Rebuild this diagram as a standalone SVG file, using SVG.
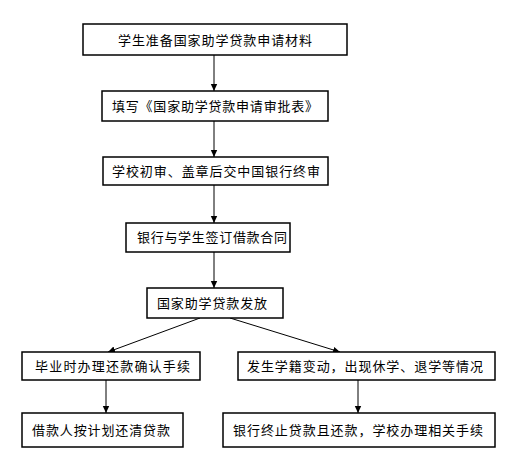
<svg xmlns="http://www.w3.org/2000/svg" width="517" height="476" viewBox="0 0 517 476">
<style>
.box{fill:#fff;stroke:#000;stroke-width:1.5}
.t{font-family:"Noto Sans CJK SC","Noto Sans CJK JP",sans-serif;font-size:13px;fill:#000}
.c{stroke:#000;stroke-width:1;fill:none;marker-end:url(#ah)}
</style>
<defs>
<marker id="ah" markerWidth="8" markerHeight="8" refX="7" refY="4" orient="auto" markerUnits="userSpaceOnUse">
<path d="M0,0.8 L7,4 L0,7.2 Z" fill="#000"/>
</marker>
</defs>
<rect width="517" height="476" fill="#fff"/>
<g id="connectors">
<line class="c" x1="214" y1="55" x2="214" y2="91"/>
<line class="c" x1="214" y1="121" x2="214" y2="157"/>
<line class="c" x1="214" y1="185" x2="214" y2="223"/>
<line class="c" x1="214" y1="252" x2="214" y2="288"/>
<line class="c" x1="200" y1="318" x2="108" y2="352"/>
<line class="c" x1="230" y1="318" x2="340" y2="352"/>
<line class="c" x1="106" y1="380" x2="106" y2="413"/>
<line class="c" x1="358" y1="380" x2="358" y2="413"/>
</g>
<g id="n1"><rect class="box" x="83" y="24" width="264" height="31"/><text class="t" x="118" y="44.5" textLength="194" lengthAdjust="spacing">学生准备国家助学贷款申请材料</text></g>
<g id="n2"><rect class="box" x="102" y="91" width="226" height="30"/><text class="t" x="112" y="111" textLength="206" lengthAdjust="spacing">填写《国家助学贷款申请审批表》</text></g>
<g id="n3"><rect class="box" x="103" y="157" width="225" height="28"/><text class="t" x="112" y="175.5" textLength="208" lengthAdjust="spacing">学校初审、盖章后交中国银行终审</text></g>
<g id="n4"><rect class="box" x="126" y="223" width="164" height="29"/><text class="t" x="137" y="242" textLength="150" lengthAdjust="spacing">银行与学生签订借款合同</text></g>
<g id="n5"><rect class="box" x="147" y="288" width="136" height="30"/><text class="t" x="157" y="307.5" textLength="110" lengthAdjust="spacing">国家助学贷款发放</text></g>
<g id="n6"><rect class="box" x="22" y="352" width="178" height="28"/><text class="t" x="35" y="370.5" textLength="155" lengthAdjust="spacing">毕业时办理还款确认手续</text></g>
<g id="n7"><rect class="box" x="238" y="352" width="257" height="28"/><text class="t" x="247" y="370.5" textLength="236" lengthAdjust="spacing">发生学籍变动，出现休学、退学等情况</text></g>
<g id="n8"><rect class="box" x="22" y="413" width="161" height="34"/><text class="t" x="32" y="434.5" textLength="138" lengthAdjust="spacing">借款人按计划还清贷款</text></g>
<g id="n9"><rect class="box" x="223" y="413" width="272" height="34"/><text class="t" x="233" y="434.5" textLength="250" lengthAdjust="spacing">银行终止贷款且还款，学校办理相关手续</text></g>
</svg>
